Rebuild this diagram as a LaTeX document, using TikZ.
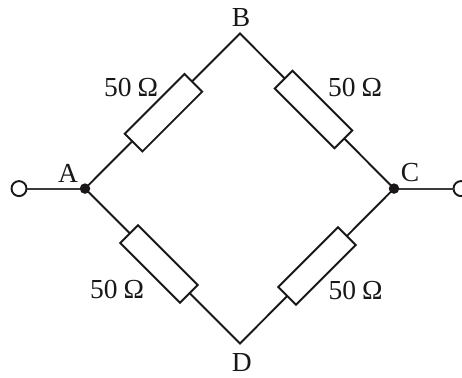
\documentclass[tikz,border=0pt]{standalone}
\usepackage{fontspec}
\setmainfont{Liberation Serif}
\definecolor{ink}{HTML}{1A1718}
\tikzset{
  wire/.style={draw=ink,line width=1.9pt,line join=miter},
  lead/.style={draw=ink!85,line width=2.1pt},
  resbox/.style={draw=ink,line width=1.9pt,fill=white,rectangle,minimum width=84.5pt,minimum height=25pt,inner sep=0pt,outer sep=0pt},
  junction/.style={circle,fill=ink,minimum size=10.5pt,inner sep=0pt,outer sep=0pt},
  corner/.style={inner sep=0pt,outer sep=0pt,minimum size=0pt},
  terminal/.style={circle,draw=ink,line width=1.9pt,fill=white,minimum size=15pt,inner sep=0pt,outer sep=0pt},
  lab/.style={text=ink,font=\fontsize{27.5}{27.5}\selectfont,inner sep=0pt,outer sep=0pt}
}
\newcommand{\ohms}{50\hspace{6pt}Ω}
\begin{document}
\begin{tikzpicture}[x=1pt,y=1pt]
\useasboundingbox (0,0) rectangle (462,377);
\clip (0,0) rectangle (462,377);
\coordinate (A) at (85,188.4);
\coordinate (C) at (394,188.4);
\node[corner] (B) at (240,343.5) {};
\node[corner] (D) at (240,33.5) {};
\draw[wire] (A) -- (B.center) -- (C) -- (D.center) -- cycle;
\node[junction] (JA) at (A) {};
\node[junction] (JC) at (C) {};
\node[terminal] (TL) at (19,188.4) {};
\node[terminal] (TR) at (461,188.4) {};
\draw[lead] (TL) -- (JA);
\draw[lead] (JC) -- (TR);
\node[resbox,rotate=45] (R1) at (163.5,264.3) {};
\node[resbox,rotate=-45] (R2) at (313.5,267.5) {};
\node[resbox,rotate=-45] (R3) at (159,113) {};
\node[resbox,rotate=45] (R4) at (317,111) {};
\node[lab] (LA) at (68,204) {A};
\node[lab] (LC) at (410,204.3) {C};
\node[lab] (LB) at (241,359.7) {B};
\node[lab] (LD) at (241.7,14) {D};
\node[lab] (L1) at (131,289.3) {\ohms};
\node[lab] (L2) at (355,289.3) {\ohms};
\node[lab] (L3) at (117,88) {\ohms};
\node[lab] (L4) at (355.5,87) {\ohms};
\end{tikzpicture}
\end{document}
